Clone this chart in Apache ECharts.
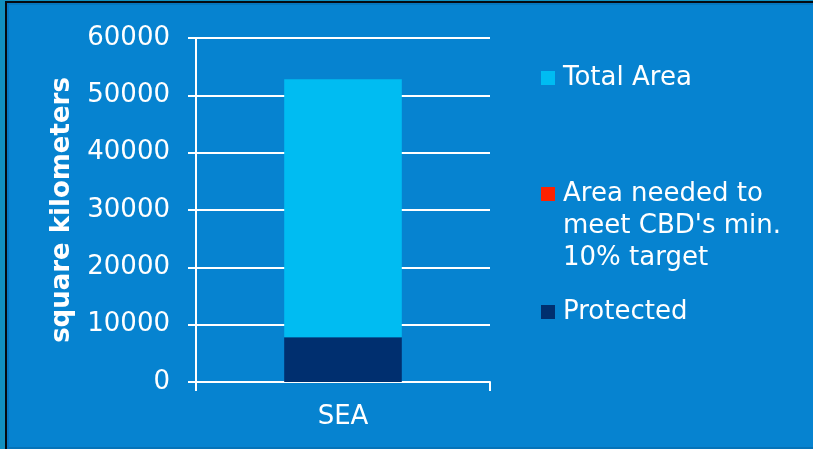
<!DOCTYPE html>
<html>
<head>
<meta charset="utf-8">
<title>Protected area – SEA</title>
<script src="https://cdn.jsdelivr.net/npm/echarts@6/dist/echarts.min.js"></script>
<style>
  html, body { margin: 0; padding: 0; }
  body { width: 813px; height: 449px; position: relative; overflow: hidden; background: #1190c0; }
  /* slide frame behind the chart */
  #frame {
    position: absolute; left: 5px; top: 1px; width: 808px; height: 448px;
    box-sizing: border-box;
    background: #0683d0;
    border-left: 2px solid #050a10;
    border-top: 2px solid #050a10;
    box-shadow: inset 2px 2px 0 #0577c0, inset 0 -2px 0 #0573b8;
  }
  #chart { position: absolute; left: 0; top: 0; width: 813px; height: 449px; }
</style>
</head>
<body>
<div id="frame"></div>
<div id="chart"></div>
<script>
// Areas in square kilometres
const categories = ['SEA'];
const totalArea = [52800];
const neededArea = [0];      // extra area needed to reach the 10% target
const protectedArea = [7800];

const yTicks = { min: 0, max: 60000, interval: 10000 };

// the light segment shows what remains of the total above the other two
const remainingArea = totalArea.map((t, i) => t - protectedArea[i] - neededArea[i]);

const FONT = 'DejaVu Sans';
const colors = { total: '#00bcf2', needed: '#ff2200', protected: '#002f6f' };
const NEEDED_NAME = 'Area needed to\nmeet CBD\'s min.\n10% target';

const chart = echarts.init(document.getElementById('chart'), null, { renderer: 'canvas' });

// each legend line is wrapped in a rich token so it gets a little left padding
const padLines = text => text.split('\n').map(l => l ? '{t|' + l + '}' : '').join('\n');

const legendBase = {
  orient: 'vertical',
  left: 541,
  padding: 0,
  itemWidth: 14,
  itemHeight: 14,
  icon: 'rect',
  selectedMode: false,
  formatter: name => padLines(name),
  textStyle: {
    color: '#ffffff', fontFamily: FONT, fontSize: 26, lineHeight: 32,
    rich: { t: { color: '#ffffff', fontFamily: FONT, fontSize: 26, lineHeight: 32, padding: [0, 0, 0, 3] } }
  }
};

chart.setOption({
  animation: false,
  grid: { left: 196, right: 323, top: 38, bottom: 67, containLabel: false },
  legend: [
    Object.assign({}, legendBase, { top: 62, data: ['Total Area'] }),
    // two blank lines first so the swatch sits beside the first line of the wrapped label
    Object.assign({}, legendBase, { top: 114, data: [NEEDED_NAME], formatter: name => padLines('\n\n' + name) }),
    Object.assign({}, legendBase, { top: 296, data: ['Protected'] })
  ],
  xAxis: {
    type: 'category',
    data: categories,
    axisLine: { lineStyle: { color: '#ffffff', width: 2 } },
    axisTick: { show: true, length: 9, lineStyle: { color: '#ffffff', width: 2 } },
    axisLabel: { color: '#ffffff', fontFamily: FONT, fontSize: 26, margin: 22 }
  },
  yAxis: {
    type: 'value',
    min: yTicks.min,
    max: yTicks.max,
    interval: yTicks.interval,
    name: 'square kilometers',
    nameLocation: 'middle',
    nameGap: 121,
    nameRotate: 90,
    nameTextStyle: { color: '#ffffff', fontFamily: FONT, fontSize: 26, fontWeight: 'bold' },
    axisLine: { show: true, lineStyle: { color: '#ffffff', width: 2 } },
    axisTick: { show: true, inside: false, length: 8, lineStyle: { color: '#ffffff', width: 2 } },
    axisLabel: { color: '#ffffff', fontFamily: FONT, fontSize: 26, margin: 26, formatter: v => String(v) },
    splitLine: { show: true, lineStyle: { color: '#ffffff', width: 2 } }
  },
  series: [
    {
      name: 'Protected', type: 'bar', stack: 'area', barWidth: '40%',
      data: protectedArea, itemStyle: { color: colors.protected }
    },
    {
      name: NEEDED_NAME, type: 'bar', stack: 'area', barWidth: '40%',
      data: neededArea, itemStyle: { color: colors.needed }
    },
    {
      name: 'Total Area', type: 'bar', stack: 'area', barWidth: '40%',
      data: remainingArea, itemStyle: { color: colors.total }
    }
  ]
});
</script>
</body>
</html>
